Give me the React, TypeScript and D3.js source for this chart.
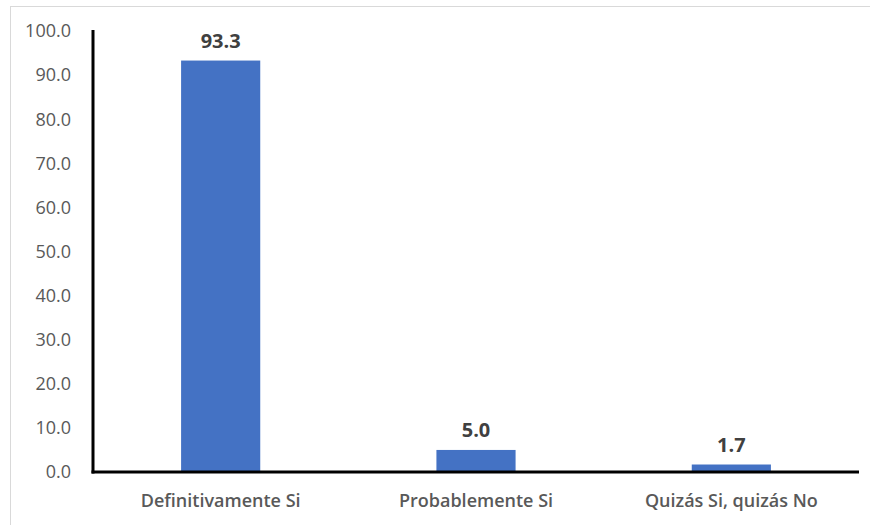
import { useEffect, useRef } from "react";
import * as d3 from "d3";

const categories = ["Definitivamente Si", "Probablemente Si", "Quizás Si, quizás No"];
const values = [93.3, 5.0, 1.7];
const yTicks = [0, 10, 20, 30, 40, 50, 60, 70, 80, 90, 100];

export default function App() {
  const ref = useRef<SVGSVGElement | null>(null);

  useEffect(() => {
    const svg = d3.select(ref.current);
    svg.selectAll("*").remove();

    const width = 870;
    const height = 525;
    const margin = { top: 31, right: 11, bottom: 53, left: 93 };
    const font = "'Open Sans', 'Noto Sans', sans-serif";

    // frame of the chart area
    svg.append("rect")
      .attr("x", 10.5)
      .attr("y", 6.5)
      .attr("width", width + 20)
      .attr("height", height + 20)
      .attr("fill", "#fff")
      .attr("stroke", "#d9d9d9")
      .attr("stroke-width", 1);

    const x = d3.scaleBand()
      .domain(categories)
      .range([margin.left, width - margin.right])
      .paddingInner(0.69)
      .paddingOuter(0.345);

    const y = d3.scaleLinear()
      .domain([0, 100])
      .range([height - margin.bottom, margin.top]);

    // y tick labels
    svg.append("g")
      .selectAll("text")
      .data(yTicks)
      .join("text")
      .attr("x", 71)
      .attr("y", d => y(d))
      .attr("dy", "0.35em")
      .attr("text-anchor", "end")
      .attr("font-family", font)
      .attr("font-size", 18)
      .attr("fill", "#595959")
      .text(d => d.toFixed(1));

    svg.append("g")
      .selectAll("rect")
      .data(values)
      .join("rect")
      .attr("x", (d, i) => x(categories[i])!)
      .attr("y", d => y(d))
      .attr("width", x.bandwidth())
      .attr("height", d => y(0) - y(d))
      .attr("fill", "#4472c4");

    // value labels
    svg.append("g")
      .selectAll("text")
      .data(values)
      .join("text")
      .attr("x", (d, i) => x(categories[i])! + x.bandwidth() / 2)
      .attr("y", d => y(d) - 13)
      .attr("text-anchor", "middle")
      .attr("font-family", font)
      .attr("font-size", 20)
      .attr("font-weight", "bold")
      .attr("fill", "#404040")
      .text(d => d.toFixed(1));

    // category labels
    svg.append("g")
      .selectAll("text")
      .data(categories)
      .join("text")
      .attr("x", d => x(d)! + x.bandwidth() / 2)
      .attr("y", height - margin.bottom + 35)
      .attr("text-anchor", "middle")
      .attr("font-family", font)
      .attr("font-size", 18)
      .attr("font-weight", 600)
      .attr("fill", "#595959")
      .text(d => d);

    // axes lines
    svg.append("line")
      .attr("x1", margin.left)
      .attr("x2", margin.left)
      .attr("y1", y(100) - 1)
      .attr("y2", y(0) + 1.5)
      .attr("stroke", "#000")
      .attr("stroke-width", 3);

    svg.append("line")
      .attr("x1", margin.left - 1.5)
      .attr("x2", width - margin.right)
      .attr("y1", y(0))
      .attr("y2", y(0))
      .attr("stroke", "#000")
      .attr("stroke-width", 3);
  }, []);

  return (
    <svg
      ref={ref}
      width={870}
      height={525}
      style={{ position: "absolute", left: 0, top: 0, display: "block" }}
    />
  );
}
